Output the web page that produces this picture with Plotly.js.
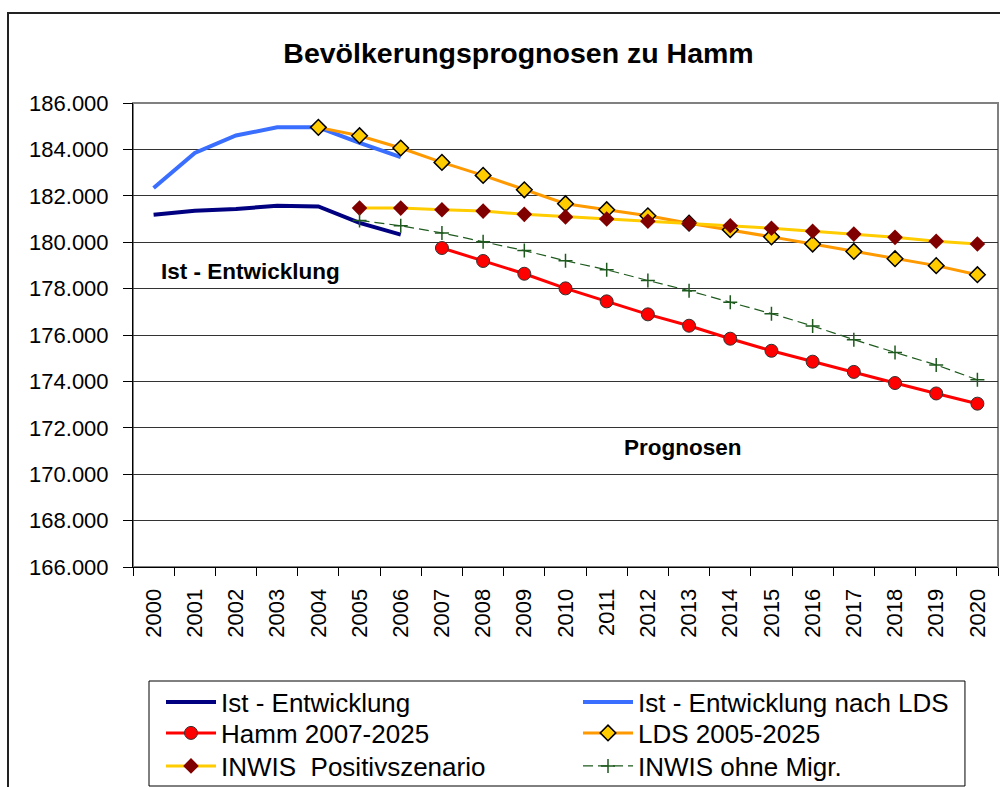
<!DOCTYPE html>
<html>
<head>
<meta charset="utf-8">
<script src="https://cdn.plot.ly/plotly-3.0.1.min.js"></script>
<style>
  html, body { margin:0; padding:0; background:#fff; }
  #wrap { position:relative; width:1000px; height:787px; overflow:hidden; }
  #chart { position:absolute; left:0; top:0; width:1000px; height:787px; }
  #frame { position:absolute; left:7px; top:12px; width:1100px; height:900px; border-left:2px solid #222; border-top:2px solid #222; pointer-events:none; }
</style>
</head>
<body>
<div id="wrap">
  <div id="chart"></div>
  <div id="frame"></div>
</div>
<script>
// ---- data ----
const years = ["2000","2001","2002","2003","2004","2005","2006","2007","2008","2009","2010",
               "2011","2012","2013","2014","2015","2016","2017","2018","2019","2020"];

const istEntwicklung = [181185, 181358, 181432, 181573, 181544, 180830, 180324,
  null, null, null, null, null, null, null, null, null, null, null, null, null, null];

const istNachLDS = [182340, 183850, 184600, 184950, 184950, 184280, 183670,
  null, null, null, null, null, null, null, null, null, null, null, null, null, null];

const hamm = [null, null, null, null, null, null, null,
  179750, 179190, 178640, 178010, 177450, 176890, 176400, 175840, 175320, 174850, 174410, 173930, 173480, 173040];

const lds = [null, null, null, null,
  184950, 184590, 184060, 183440, 182880, 182260, 181660, 181400, 181140, 180820, 180540, 180230, 179920, 179600, 179290, 178990, 178600];

const inwisPositiv = [null, null, null, null, null,
  181470, 181470, 181400, 181340, 181200, 181090, 181000, 180900, 180810, 180710, 180600, 180470, 180350, 180210, 180040, 179920];

const inwisOhneMigr = [null, null, null, null, null,
  180940, 180710, 180400, 180020, 179640, 179200, 178810, 178350, 177910, 177410, 176920, 176390, 175800, 175250, 174710, 174070];

const seriesNames = ["Ist - Entwicklung", "Ist - Entwicklung nach LDS", "Hamm 2007-2025",
                     "LDS 2005-2025", "INWIS  Positivszenario", "INWIS ohne Migr."];

const FONT = "Liberation Sans, Arial, Helvetica, sans-serif";

const traces = [
  { x: years, y: istEntwicklung, name: seriesNames[0], mode: "lines", legend: "legend",
    line: { color: "#000080", width: 4 } },
  { x: years, y: istNachLDS, name: seriesNames[1], mode: "lines", legend: "legend2",
    line: { color: "#3A6EFF", width: 4 } },
  { x: years, y: hamm, name: seriesNames[2], mode: "lines+markers", legend: "legend3",
    line: { color: "#FF0000", width: 3 },
    marker: { symbol: "circle", size: 13, color: "#FF0000", line: { color: "#333333", width: 1 } } },
  { x: years, y: lds, name: seriesNames[3], mode: "lines+markers", legend: "legend4",
    line: { color: "#FF9900", width: 3 },
    marker: { symbol: "diamond", size: 12, color: "#FFCC00", line: { color: "#000000", width: 1.5 } } },
  { x: years, y: inwisPositiv, name: seriesNames[4], mode: "lines+markers", legend: "legend5",
    line: { color: "#FFCC00", width: 3 },
    marker: { symbol: "diamond", size: 12, color: "#800000", line: { color: "#800000", width: 0 } } },
  { x: years, y: inwisOhneMigr, name: seriesNames[5], mode: "lines+markers", legend: "legend6",
    line: { color: "#1E5A1E", width: 1.2, dash: "10px,5px" },
    marker: { symbol: "cross-thin", size: 10, color: "#1E5A1E", line: { color: "#1E5A1E", width: 1.5 } } }
];

// one legend box per entry: column (left px) and row centre (px from top)
function legendAt(xpx, ycpx) {
  return {
    orientation: "h", xref: "container", x: xpx / 1000, xanchor: "left",
    yref: "container", y: 1 - ycpx / 787, yanchor: "middle",
    font: { size: 26, family: FONT, color: "#000" },
    borderwidth: 0, bgcolor: "rgba(0,0,0,0)", itemwidth: 50
  };
}
const colX = [161, 578];
const rowY = [702, 733, 766];

const layout = {
  width: 1000, height: 787,
  margin: { l: 133, r: 2, t: 103, b: 220, autoexpand: false },
  paper_bgcolor: "#ffffff", plot_bgcolor: "#ffffff",
  separators: ",.",
  font: { family: FONT, color: "#000" },
  showlegend: true,
  title: { text: "<b>Bevölkerungsprognosen zu Hamm</b>", font: { size: 28.5, family: FONT, color: "#000" },
           x: 0.5185, xref: "container", xanchor: "center", y: 0.933, yref: "container", yanchor: "middle" },
  xaxis: {
    type: "category", range: [-0.5, 20.5], fixedrange: true,
    showline: true, linecolor: "#000", linewidth: 1,
    ticks: "outside", ticklen: 8, tickcolor: "#000", tickwidth: 1, tickson: "boundaries",
    tickangle: -90, tickfont: { size: 22, family: FONT, color: "#000" }, ticklabelstandoff: 12,
    showgrid: false, zeroline: false
  },
  yaxis: {
    range: [166000, 186000], dtick: 2000, tick0: 166000, tickformat: ",.0f",
    showline: true, linecolor: "#000", linewidth: 1,
    ticks: "outside", ticklen: 9, tickcolor: "#000", tickwidth: 1,
    tickfont: { size: 22, family: FONT, color: "#000" }, ticklabelstandoff: 10,
    showgrid: true, gridcolor: "#333333", gridwidth: 1, zeroline: false
  },
  shapes: [
    { type: "rect", xref: "paper", yref: "paper", x0: 0, x1: 1, y0: 0, y1: 1,
      line: { color: "#808080", width: 2 }, layer: "below" },
    // legend frame
    { type: "rect", xref: "paper", yref: "paper", x0: 0.0185, x1: 0.9618, y0: -0.472, y1: -0.2457,
      line: { color: "#000", width: 1 }, layer: "below" }
  ],
  annotations: [
    { text: "<b>Ist - Entwicklung</b>", x: 2.36, y: 178730, xref: "x", yref: "y",
      showarrow: false, xanchor: "center", yanchor: "middle",
      font: { size: 22.5, family: FONT, color: "#000" } },
    { text: "<b>Prognosen</b>", x: 12.85, y: 171150, xref: "x", yref: "y",
      showarrow: false, xanchor: "center", yanchor: "middle",
      font: { size: 22.5, family: FONT, color: "#000" } }
  ],
  legend:  legendAt(colX[0], rowY[0]),
  legend2: legendAt(colX[1], rowY[0]),
  legend3: legendAt(colX[0], rowY[1]),
  legend4: legendAt(colX[1], rowY[1]),
  legend5: legendAt(colX[0], rowY[2]),
  legend6: legendAt(colX[1], rowY[2])
};

Plotly.newPlot("chart", traces, layout, { displayModeBar: false, staticPlot: true });
</script>
</body>
</html>
